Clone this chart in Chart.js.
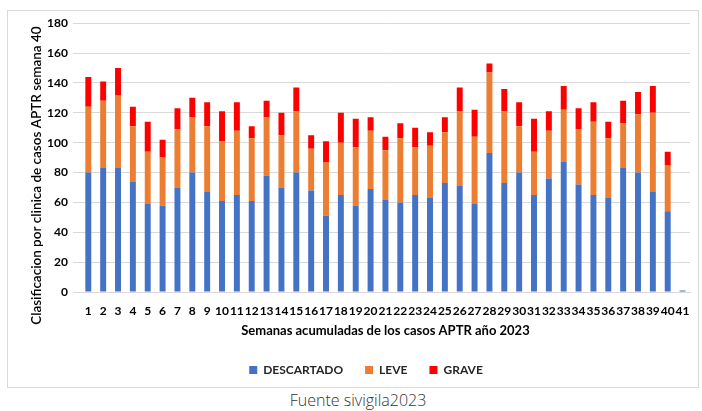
<!DOCTYPE html>
<html>
<head>
<meta charset="utf-8">
<script src="https://cdn.jsdelivr.net/npm/chart.js@4.4.0/dist/chart.umd.min.js"></script>
<style>
    body { margin: 0; background: #fff; width: 702px; height: 411px; position: relative; overflow: hidden; }
    #box { position: absolute; left: 7px; top: 10px; width: 692px; height: 378px; border: 1px solid #d9d9d9; box-sizing: border-box; }
    #fuente { position: absolute; left: 0; top: 389px; width: 716px; text-align: center; font-family: 'Open Sans', sans-serif; font-size: 16px; font-weight: 300; color: #333; }
</style>
</head>
<body>
<div id="box"><canvas id="myChart" width="690" height="376"></canvas></div>
<div id="fuente">Fuente sivigila2023</div>
<script>
    // Semanas epidemiológicas 1..41
    const semanas = ['1','2','3','4','5','6','7','8','9','10','11','12','13','14','15','16','17','18','19','20','21','22','23','24','25','26','27','28','29','30','31','32','33','34','35','36','37','38','39','40','41'];

    const descartado = [80, 83, 83, 74, 59, 58, 70, 80, 67, 61, 65, 61, 78, 70, 80, 68, 51, 65, 58, 69, 62, 60, 65, 63, 73, 71, 59, 93, 73, 80, 65, 76, 87, 72, 65, 63, 83, 80, 67, 54, 1];
    const leve = [44, 45, 49, 37, 35, 32, 39, 37, 44, 40, 43, 42, 39, 35, 41, 28, 36, 35, 39, 39, 33, 43, 32, 35, 34, 50, 45, 54, 48, 31, 29, 32, 35, 37, 49, 40, 30, 39, 53, 31, 0];
    const grave = [20, 13, 18, 13, 20, 12, 14, 13, 16, 20, 19, 8, 11, 15, 16, 9, 14, 20, 19, 9, 9, 10, 13, 9, 10, 16, 18, 6, 15, 16, 22, 13, 16, 14, 13, 11, 15, 15, 18, 9, 0];

    const yTicks = [0, 20, 40, 60, 80, 100, 120, 140, 160, 180];
    const yTitle = 'Clasificacion por clinica de casos APTR semana 40';

    const fontFamily = 'Lato, "Liberation Sans", sans-serif';

    // rotated y title, sits a bit lower than the plot centre like the Excel original
    const yTitlePlugin = {
        id: 'yTitle',
        afterDraw(chart) {
            const c = chart.ctx;
            const area = chart.chartArea;
            c.save();
            c.translate(29, (area.top + area.bottom) / 2 + 18);
            c.rotate(-Math.PI / 2);
            c.textAlign = 'center';
            c.textBaseline = 'middle';
            c.fillStyle = '#000';
            c.font = '600 13.5px ' + fontFamily;
            c.fillText(yTitle, 0, 0);
            c.restore();
        }
    };

    const ctx = document.getElementById('myChart').getContext('2d');
    const chart = new Chart(ctx, {
        type: 'bar',
        data: {
            labels: semanas,
            datasets: [
                { label: 'DESCARTADO', data: descartado, backgroundColor: '#4472C4' },
                { label: 'LEVE', data: leve, backgroundColor: '#ED7D31' },
                { label: 'GRAVE', data: grave, backgroundColor: '#FF0000' }
            ]
        },
        plugins: [yTitlePlugin],
        options: {
            responsive: false,
            animation: false,
            datasets: {
                bar: { barPercentage: 0.4, categoryPercentage: 1.0 }
            },
            layout: {
                padding: { top: -3, right: 8, left: 34, bottom: 1 }
            },
            plugins: {
                legend: {
                    position: 'bottom',
                    labels: {
                        boxWidth: 8,
                        boxHeight: 8,
                        padding: 22,
                        color: '#262626',
                        font: { family: fontFamily, size: 12, weight: 'bold' }
                    }
                },
                tooltip: { enabled: false }
            },
            scales: {
                x: {
                    stacked: true,
                    grid: { display: false },
                    border: { color: '#d9d9d9' },
                    ticks: {
                        autoSkip: false,
                        maxRotation: 0,
                        minRotation: 0,
                        padding: 4,
                        color: '#000',
                        font: { family: fontFamily, size: 12, weight: 'bold' }
                    },
                    title: {
                        display: true,
                        text: 'Semanas acumuladas de los casos APTR año 2023',
                        color: '#000',
                        padding: { top: 1, bottom: 3 },
                        font: { family: fontFamily, size: 13, weight: 'bold' }
                    }
                },
                y: {
                    stacked: true,
                    min: 0,
                    max: 180,
                    afterBuildTicks: function (axis) {
                        axis.ticks = yTicks.map(v => ({ value: v }));
                    },
                    grid: { color: '#d9d9d9' },
                    border: { display: false },
                    ticks: {
                        padding: 5,
                        color: '#000',
                        font: { family: fontFamily, size: 12, weight: 'bold' }
                    }
                }
            }
        }
    });
</script>
</body>
</html>
